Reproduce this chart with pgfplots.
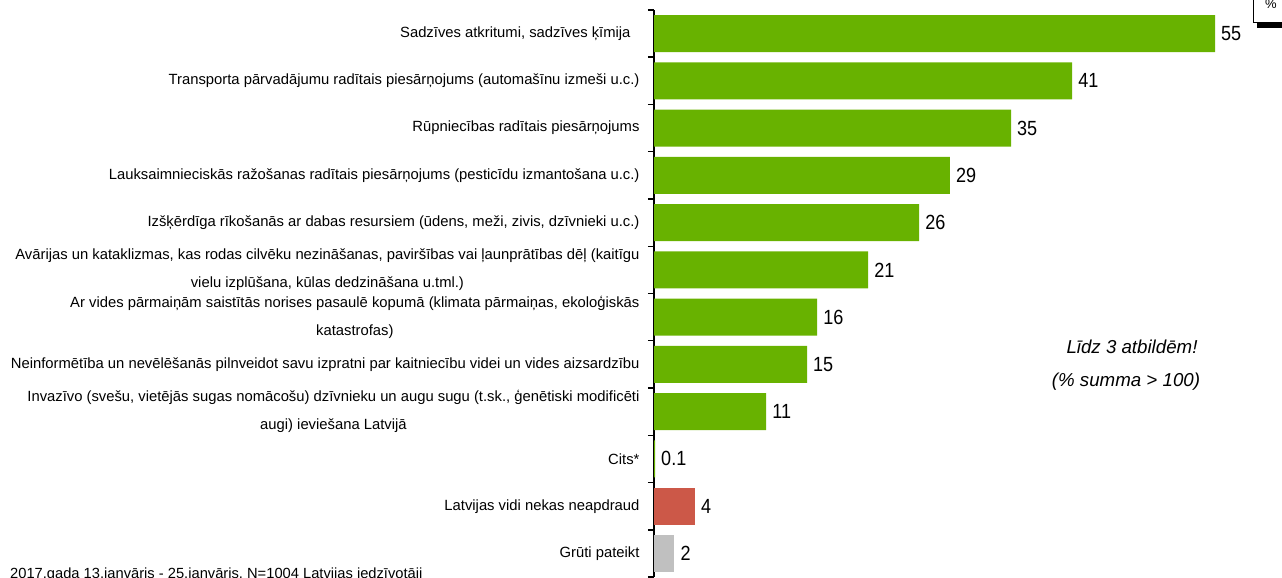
\documentclass[border=0pt]{standalone}
\usepackage{pgfplots}
\pgfplotsset{compat=1.18}
\usepackage{fontspec}
\setmainfont{Liberation Sans}
\newfontfamily\narrowfont{Liberation Sans}[FakeStretch=0.88]
\definecolor{bargreen}{RGB}{104,178,0}
\definecolor{barred}{RGB}{204,88,72}
\definecolor{bargrey}{RGB}{192,192,192}
\begin{document}
\begin{tikzpicture}[x=1pt,y=1pt]
\useasboundingbox (0,0) rectangle (1282,578);
\clip (0,0) rectangle (1282,578);
\begin{axis}[
  at={(654pt,0.9pt)}, anchor=south west,
  scale only axis, width=612pt, height=567.2pt,
  xbar, bar width=37pt, bar shift=0pt,
  xmin=0, xmax=60, ymin=-0.5, ymax=11.5, y dir=reverse,
  enlargelimits=false,
  axis y line=left, axis x line=none,
  axis line style={-, line width=1.6pt, black},
  ytick={0,...,11},
  major tick length=0pt,
  minor ytick={-0.5,0.5,...,11.5},
  minor tick length=6pt,
  tick align=outside,
  minor tick style={line width=1.4pt, black},
  yticklabel style={font=\fontsize{14.8}{28}\selectfont, align=center, anchor=east, xshift=-11pt},
  yticklabels={
    {Sadzīves atkritumi, sadzīves ķīmija\hspace*{9pt}},
    {Transporta pārvadājumu radītais piesārņojums (automašīnu izmeši u.c.)},
    {Rūpniecības radītais piesārņojums},
    {Lauksaimnieciskās ražošanas radītais piesārņojums (pesticīdu izmantošana u.c.)},
    {Izšķērdīga rīkošanās ar dabas resursiem (ūdens, meži, zivis, dzīvnieki u.c.)},
    {Avārijas un kataklizmas, kas rodas cilvēku nezināšanas, paviršības vai ļaunprātības dēļ (kaitīgu\\vielu izplūšana, kūlas dedzināšana u.tml.)},
    {Ar vides pārmaiņām saistītās norises pasaulē kopumā (klimata pārmaiņas, ekoloģiskās\\katastrofas)},
    {Neinformētība un nevēlēšanās pilnveidot savu izpratni par kaitniecību videi un vides aizsardzību},
    {Invazīvo (svešu, vietējās sugas nomācošu) dzīvnieku un augu sugu (t.sk., ģenētiski modificēti\\augi) ieviešana Latvijā},
    {Cits*},
    {Latvijas vidi nekas neapdraud},
    {Grūti pateikt}},
  nodes near coords,
  nodes near coords style={font=\narrowfont\fontsize{20.5}{20.5}\selectfont, anchor=west, inner sep=3pt, xshift=3pt},
  /pgf/number format/assume math mode=true,
  clip=false,
]
\addplot[draw=none, fill=bargreen] coordinates {
  (55,0) (41,1) (35,2) (29,3) (26,4) (21,5) (16,6) (15,7) (11,8) (0.1,9)};
\addplot[draw=none, fill=barred] coordinates {(4,10)};
\addplot[draw=none, fill=bargrey] coordinates {(2,11)};
\end{axis}
\node[font=\fontsize{18.7}{18.7}\selectfont\itshape] at (1132,578-347) {Līdz 3 atbildēm!};
\node[font=\fontsize{18.7}{18.7}\selectfont\itshape] at (1126,578-382) {(\% summa > 100)};
\node[font=\fontsize{14.7}{14.7}\selectfont, anchor=base west, inner sep=0pt] at (10,-1) {2017.gada 13.janvāris - 25.janvāris, N=1004 Latvijas iedzīvotāji};
\fill[black] (1257,578-28) rectangle (1295,590);
\filldraw[fill=white, draw=black, line width=1pt] (1253,578-23) rectangle (1291,590);
\node[font=\fontsize{13}{13}\selectfont] at (1271,578-4) {\%};
\end{tikzpicture}
\end{document}
